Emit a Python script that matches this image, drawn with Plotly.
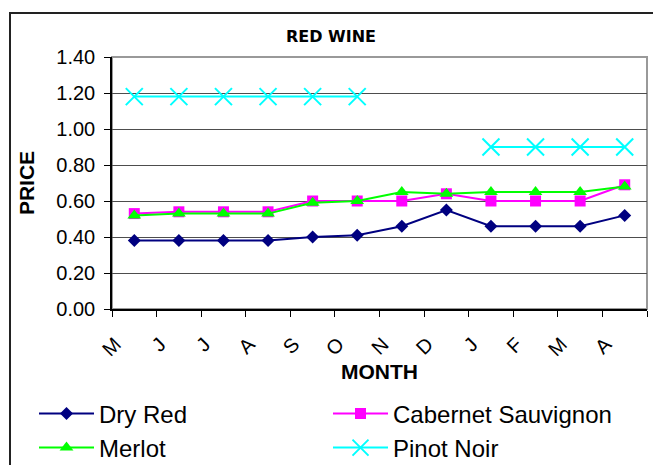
import plotly.graph_objects as go

months = ["M", "J", "J", "A", "S", "O", "N", "D", "J", "F", "M", "A"]
dry_red = [0.38, 0.38, 0.38, 0.38, 0.40, 0.41, 0.46, 0.55, 0.46, 0.46, 0.46, 0.52]
cabernet = [0.53, 0.54, 0.54, 0.54, 0.60, 0.60, 0.60, 0.64, 0.60, 0.60, 0.60, 0.69]
merlot = [0.52, 0.53, 0.53, 0.53, 0.59, 0.60, 0.65, 0.64, 0.65, 0.65, 0.65, 0.68]
pinot = [1.18, 1.18, 1.18, 1.18, 1.18, 1.18, None, None, 0.90, 0.90, 0.90, 0.90]
y_ticks = [0, 0.2, 0.4, 0.6, 0.8, 1.0, 1.2, 1.4]
y_tick_labels = ["0.00", "0.20", "0.40", "0.60", "0.80", "1.00", "1.20", "1.40"]

xs = list(range(len(months)))
FONT = "Liberation Sans, Arial, sans-serif"

fig = go.Figure()
fig.add_trace(go.Scatter(x=xs, y=dry_red, name="Dry Red", mode="lines+markers",
                         line=dict(color="#000080", width=2),
                         marker=dict(symbol="diamond", size=10, color="#000080"),
                         legend="legend"))
fig.add_trace(go.Scatter(x=xs, y=cabernet, name="Cabernet Sauvignon", mode="lines+markers",
                         line=dict(color="#FF00FF", width=2),
                         marker=dict(symbol="square", size=11, color="#FF00FF"),
                         legend="legend2"))
fig.add_trace(go.Scatter(x=xs, y=merlot, name="Merlot", mode="lines+markers",
                         line=dict(color="#00FF00", width=2),
                         marker=dict(symbol="triangle-up", size=12, color="#00FF00"),
                         legend="legend3"))
fig.add_trace(go.Scatter(x=xs, y=pinot, name="Pinot Noir", mode="lines+markers",
                         line=dict(color="#00FFFF", width=2),
                         marker=dict(symbol="x-thin", size=17, color="#00FFFF",
                                     line=dict(color="#00FFFF", width=2)),
                         connectgaps=False, legend="legend4"))

W, H = 653, 465
L, R, T, B = 112, 647, 57, 309

def px_x(p):
    return (p - L) / (R - L)

def px_y(p):
    return (B - p) / (B - T)

shapes = [
    # outer chart border
    dict(type="rect", xref="paper", yref="paper",
         x0=px_x(10), x1=px_x(700), y0=px_y(520), y1=px_y(13),
         line=dict(color="#222222", width=2), layer="below"),
    # plot area border (gray)
    dict(type="rect", xref="paper", yref="paper", x0=0, x1=1, y0=0, y1=1,
         line=dict(color="#999999", width=2), layer="below"),
]

legend_common = dict(orientation="h", xref="container", yref="container",
                     xanchor="left", yanchor="middle",
                     font=dict(family=FONT, size=24, color="#000000"),
                     bgcolor="rgba(0,0,0,0)", itemwidth=55)

COL1, COL2 = 34, 328
ROW1, ROW2 = 414, 448

fig.update_layout(
    width=W, height=H,
    margin=dict(l=L, r=W - R, t=T, b=H - B, autoexpand=False),
    paper_bgcolor="white", plot_bgcolor="white",
    font=dict(family=FONT, size=20, color="#000000"),
    title=dict(text="<b>RED WINE</b>", x=331 / W, xref="container", xanchor="center",
               y=1 - 36 / H, yref="container", yanchor="middle",
               font=dict(family="DejaVu Sans, sans-serif", size=16, color="#000000")),
    showlegend=True,
    legend=dict(x=COL1 / W, y=1 - ROW1 / H, **legend_common),
    legend2=dict(x=COL2 / W, y=1 - ROW1 / H, **legend_common),
    legend3=dict(x=COL1 / W, y=1 - ROW2 / H, **legend_common),
    legend4=dict(x=COL2 / W, y=1 - ROW2 / H, **legend_common),
    shapes=shapes,
    xaxis=dict(range=[-0.5, len(months) - 0.5], tickmode="array", tickvals=xs,
               ticktext=months, tickangle=-45, ticks="", showgrid=False,
               ticklabelshift=-19, ticklabelstandoff=14,
               zeroline=False, showline=True, linecolor="#000000", linewidth=1.5,
               tickfont=dict(family=FONT, size=20),
               minor=dict(tick0=-0.5, dtick=1, ticks="outside", ticklen=6,
                          tickcolor="#000000", showgrid=False),
               title=dict(text="<b>MONTH</b>", standoff=3,
                          font=dict(family=FONT, size=21))),
    yaxis=dict(range=[0, 1.4], tickmode="array", tickvals=y_ticks,
               ticktext=y_tick_labels,
               ticks="outside", ticklen=6, tickcolor="#000000",
               ticklabelstandoff=5,
               showgrid=True, gridcolor="#4d4d4d", gridwidth=1,
               zeroline=False, showline=True, linecolor="#000000", linewidth=1.5,
               tickfont=dict(family=FONT, size=20),
               title=dict(text="<b>PRICE</b>", standoff=16,
                          font=dict(family=FONT, size=21))),
)

fig.write_html("out.html", config={"displayModeBar": False},
               post_script="document.body.style.margin='0px';")
